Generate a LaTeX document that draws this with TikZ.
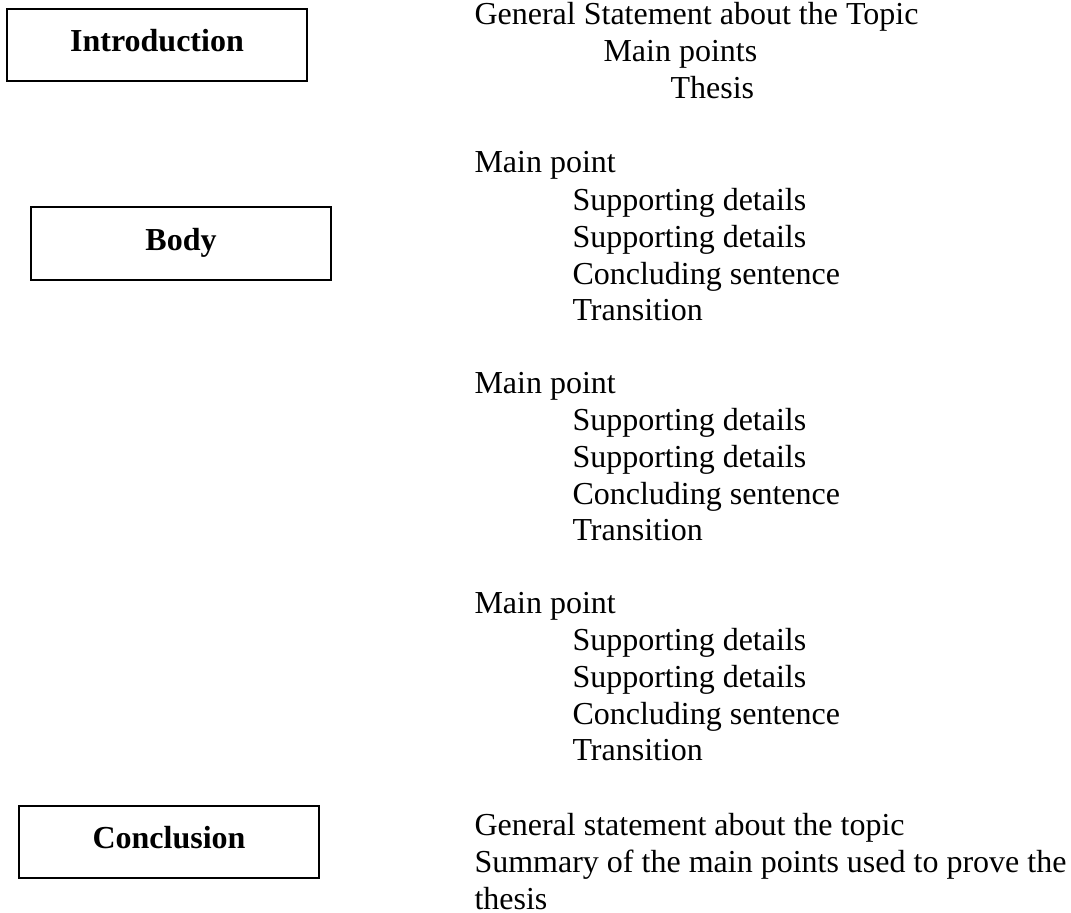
\documentclass[tikz,border=0pt]{standalone}
\usepackage{fontspec}
\setmainfont{Liberation Serif}
\newcommand{\wordsize}{\fontsize{12}{13.8}\selectfont}
\tikzset{
  partbox/.style={draw, line width=0.75pt, minimum width=112.5pt, minimum height=27pt,
    inner sep=0pt, font=\wordsize\bfseries, text height=8.4pt, text depth=3.2pt},
  textline/.style={anchor=base west, inner sep=0pt, font=\wordsize}
}
\begin{document}
\begin{tikzpicture}[x=0.375pt, y=-0.375pt]
  \useasboundingbox (0,0) rectangle (1071,912);
  % left column: the three parts
  \node[partbox] (intro) at (157,45) {Introduction};
  \node[partbox] (body) at (181,243.5) {Body};
  \node[partbox] (concl) at (169,842) {Conclusion};
  % introduction
  \node[textline] (general) at (474,25) {General Statement about the Topic};
  \node[textline] (points) at (603,62) {Main points};
  \node[textline] (thesis) at (670,99) {Thesis};
  % body paragraphs
  \foreach \g/\y in {1/173,2/393,3/613} {
    \node[textline] (main\g) at (474,\y) {Main point};
    \node[textline] (supa\g) at (572,{\y+37}) {Supporting details};
    \node[textline] (supb\g) at (572,{\y+74}) {Supporting details};
    \node[textline] (concl\g) at (572,{\y+111}) {Concluding sentence};
    \node[textline] (trans\g) at (572,{\y+147}) {Transition};
  }
  % conclusion
  \node[textline] (restate) at (474,835) {General statement about the topic};
  \node[textline] (summary) at (474,872) {Summary of the main points used to prove the};
  \node[textline] (summend) at (474,909) {thesis};
\end{tikzpicture}
\end{document}
